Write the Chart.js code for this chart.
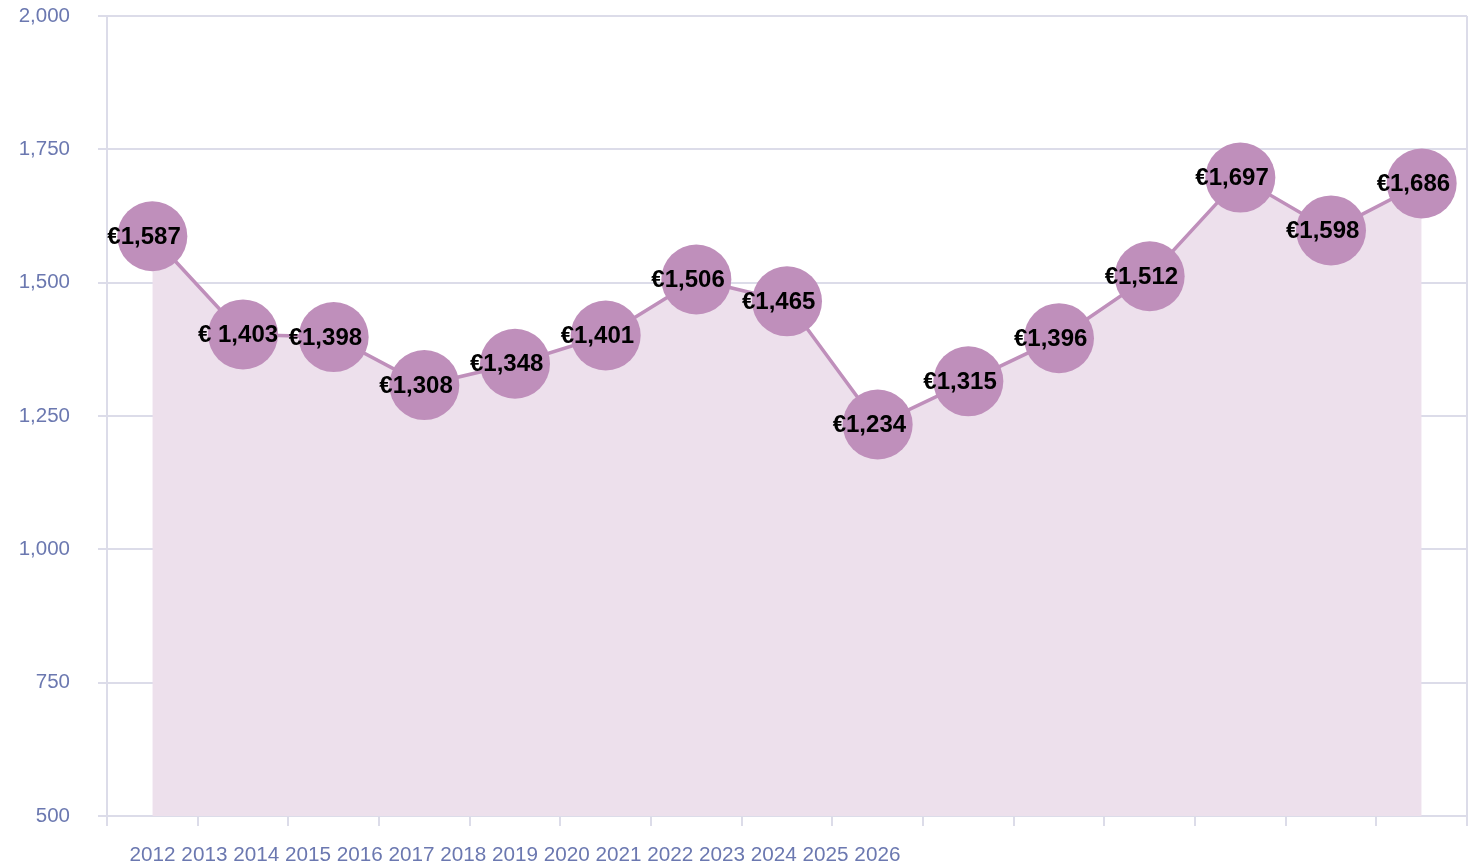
<!DOCTYPE html>
<html><head><meta charset="utf-8">
<script src="https://cdn.jsdelivr.net/npm/chart.js@4"></script>
<style>html,body{margin:0;padding:0;background:#fff;overflow:hidden;}canvas{display:block;}</style>
</head><body>
<canvas id="c" width="1473" height="868"></canvas>
<script>
const years = ["2012","2013","2014","2015","2016","2017","2018","2019","2020","2021","2022","2023","2024","2025","2026"];
const values = [1587,1403,1398,1308,1348,1401,1506,1465,1234,1315,1396,1512,1697,1598,1686];
const valueLabels = ["€1,587","€ 1,403","€1,398","€1,308","€1,348","€1,401","€1,506","€1,465","€1,234","€1,315","€1,396","€1,512","€1,697","€1,598","€1,686"];
const yMin = 500, yMax = 2000, yStep = 250;
const yearLabelIndex = 4;

const axisColor = '#6b78b0';
const gridColor = '#dcdce9';
const markColor = '#bf8fbb';
const fillColor = '#ede0ec';
const FONT = '"Liberation Sans", Arial, Helvetica, sans-serif';

const labelPlugin = {
  id: 'valueLabels',
  afterDatasetsDraw(chart) {
    const ctx = chart.ctx;
    const meta = chart.getDatasetMeta(0);
    ctx.save();
    ctx.font = 'bold 24px ' + FONT;
    ctx.fillStyle = '#000';
    ctx.textAlign = 'left';
    ctx.textBaseline = 'middle';
    meta.data.forEach((pt, i) => ctx.fillText(valueLabels[i], pt.x - 45, pt.y + 1));
    ctx.restore();
  }
};
const framePlugin = {
  id: 'rightFrame',
  beforeDatasetsDraw(chart) {
    const {ctx, chartArea} = chart;
    ctx.save();
    ctx.strokeStyle = gridColor;
    ctx.lineWidth = 2;
    ctx.beginPath();
    ctx.moveTo(chartArea.right, chartArea.top);
    ctx.lineTo(chartArea.right, chartArea.bottom + 10);
    ctx.stroke();
    ctx.restore();
  }
};

new Chart(document.getElementById('c'), {
  type: 'line',
  data: {
    labels: years,
    datasets: [{
      data: values,
      borderColor: markColor,
      borderWidth: 3.5,
      backgroundColor: fillColor,
      fill: 'start',
      tension: 0,
      pointRadius: 35,
      pointHoverRadius: 35,
      pointBackgroundColor: markColor,
      pointBorderColor: markColor,
      pointBorderWidth: 0,
      clip: false
    }]
  },
  options: {
    responsive: false,
    animation: false,
    devicePixelRatio: 1,
    layout: { autoPadding: false, padding: { top: 16, right: 6, bottom: 0, left: 0 } },
    plugins: { legend: { display: false }, tooltip: { enabled: false } },
    scales: {
      x: {
        offset: true,
        grid: { offset: true, drawOnChartArea: false, drawTicks: true, tickLength: 10, color: gridColor, lineWidth: 2 },
        border: { display: true, color: gridColor, width: 2 },
        ticks: {
          autoSkip: false, maxRotation: 0, minRotation: 0, padding: 17,
          color: axisColor, font: { family: FONT, size: 20.7 },
          callback: (v, i) => i === yearLabelIndex ? years.join(' ') : ''
        },
        afterFit: s => { s.height = 52; s.paddingLeft = 0; s.paddingRight = 0; }
      },
      y: {
        min: yMin, max: yMax,
        grid: { color: gridColor, lineWidth: 2, tickLength: 9, drawTicks: true },
        border: { display: true, color: gridColor, width: 2 },
        ticks: { stepSize: yStep, padding: 28, color: axisColor, font: { family: FONT, size: 20.5 } },
        afterFit: s => { s.width = 107; s.paddingTop = 0; s.paddingBottom = 0; }
      }
    }
  },
  plugins: [framePlugin, labelPlugin]
});
</script>
</body></html>
